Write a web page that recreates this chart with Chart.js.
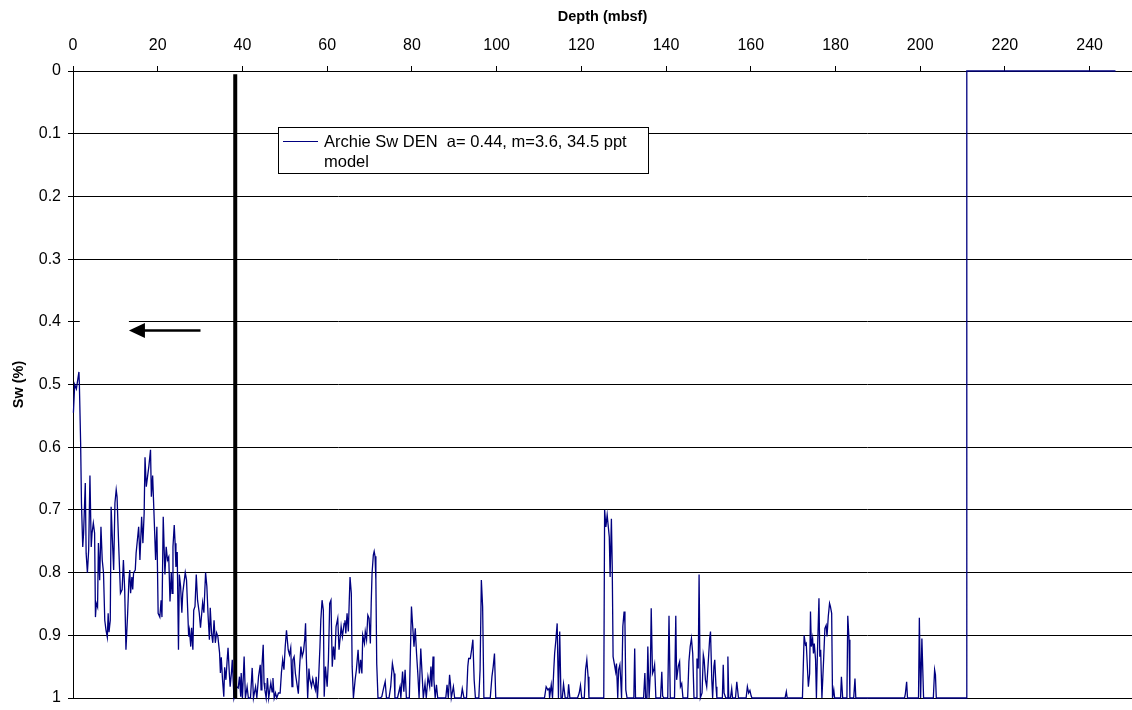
<!DOCTYPE html>
<html>
<head>
<meta charset="utf-8">
<script src="https://cdn.jsdelivr.net/npm/chart.js@4.4.0/dist/chart.umd.min.js"></script>
<style>
html,body{margin:0;padding:0;background:#fff;}
#wrap{width:1132px;height:710px;position:relative;}
</style>
</head>
<body>
<div id="wrap"><canvas id="c" width="1132" height="710"></canvas></div>
<script>
// ---------- data ----------
const xTickValues = [0, 20, 40, 60, 80, 100, 120, 140, 160, 180, 200, 220, 240];
const yTickValues = [0, 0.1, 0.2, 0.3, 0.4, 0.5, 0.6, 0.7, 0.8, 0.9, 1];
const yTickLabels = ['0', '0.1', '0.2', '0.3', '0.4', '0.5', '0.6', '0.7', '0.8', '0.9', '1'];
const xTitle = 'Depth (mbsf)';
const yTitle = 'Sw (%)';
const legendLines = ['Archie Sw DEN  a= 0.44, m=3.6, 34.5 ppt', 'model'];

// [depth (mbsf), Sw]
const swProfile = [
[0.1,.545],[0.4,.50],[0.8,.507],[1.4,.48],[1.5,.498],[1.8,.593],[2.0,.69],[2.3,.759],[2.5,.737],[2.9,.657],
[3.1,.769],[3.4,.80],[3.7,.764],[4.0,.645],[4.3,.759],[4.5,.737],[4.8,.721],[5.1,.737],[5.3,.871],[5.5,.849],
[5.8,.855],[6.0,.753],[6.3,.812],[6.6,.727],[6.9,.78],[7.2,.80],[7.5,.876],[7.8,.892],[8.1,.903],[8.3,.865],
[8.5,.895],[8.8,.876],[9.0,.695],[9.3,.748],[9.6,.796],[9.9,.689],[10.2,.668],[10.4,.679],[10.8,.759],[11.2,.833],
[11.6,.827],[11.9,.78],[12.2,.827],[12.5,.923],[12.9,.865],[13.2,.812],[13.4,.796],[13.6,.833],[13.9,.807],[14.1,.827],
[14.3,.80],[14.7,.796],[14.9,.769],[15.2,.748],[15.5,.727],[15.8,.78],[16.2,.711],[16.5,.753],[16.8,.705],[17.0,.616],
[17.3,.663],[17.6,.647],[17.9,.631],[18.3,.604],[18.5,.679],[18.8,.645],[19.2,.721],[19.5,.78],[19.8,.727],[20.1,.865],
[20.5,.871],[20.8,.844],[21.0,.871],
[21.3,.711],[21.7,.803],[22.0,.759],[22.3,.78],[22.6,.775],[22.9,.846],[23.2,.80],[23.4,.833],[23.6,.759],[23.9,.724],
[24.1,.753],[24.3,.791],[24.6,.767],[24.9,.923],[25.1,.803],[25.4,.822],[25.7,.864],[25.9,.833],[26.1,.822],[26.5,.80],
[26.8,.812],[27.1,.864],[27.3,.902],[27.5,.892],[27.8,.918],[28.0,.888],[28.3,.923],[28.5,.86],[28.8,.854],[29.1,.803],
[29.4,.844],[29.8,.864],[30.1,.888],[30.4,.864],[30.6,.848],[30.9,.864],[31.3,.80],[31.6,.822],[31.9,.87],[32.2,.907],
[32.4,.856],[32.7,.896],[33.0,.912],[33.3,.876],[33.6,.912],[33.9,.896],[34.2,.902],[34.6,.928],[34.8,.96],[35.0,.935],
[35.3,.971],[35.6,.998],[35.8,.951],[36.1,.971],[36.4,.939],[36.6,.92],[36.9,.96],[37.1,.982],[37.4,.96],[37.6,.939],
[38.0,1.0],[38.6,.982],[39.0,.984],[39.3,.966],[39.6,.998],[39.7,.96],[40.0,1],[40.4,.934],[40.7,1],[41.1,.982],
[41.4,1],[41.9,1],[42.3,.952],[42.6,1],[43.1,.982],[43.4,1],[43.8,.966],[44.2,.947],[44.4,.987],[44.6,.95],
[44.9,.915],[45.1,.976],[45.3,.987],[45.6,1],[45.9,.968],[46.2,1],[46.7,.976],[47.0,.99],[47.2,.968],[47.5,1],
[47.8,.992],[48.1,1],[48.5,.992],[48.9,.992],[49.2,.96],[49.5,.939],[49.8,.955],[50.1,.918],[50.4,.892],[50.8,.923],
[51.1,.931],[51.4,.92],[51.7,.982],[51.9,.939],[52.2,.934],[52.5,.961],[52.9,.979],[53.2,.993],[53.5,.95],[53.8,.918],
[54.1,.934],[54.4,.926],[54.7,.907],[54.9,.881],[55.1,.939],[55.4,1],[55.7,.953],[55.9,.969],[56.3,.982],[56.6,.969],
[56.9,.979],[57.2,.987],[57.4,.966],[57.7,1],[58.0,.966],[58.3,.918],[58.5,.876],[58.8,.844],[59.1,.86],[59.3,.998],
[59.6,.95],[60.0,.982],[60.3,.939],[60.6,.849],[60.9,.844],[61.2,.95],[61.5,.918],[61.8,.939],[62.1,.886],[62.5,.873],
[62.8,.923],[63.1,.902],[63.3,.886],[63.6,.902],[64.0,.881],[64.2,.876],[64.4,.897],[64.7,.865],[65.0,.894],[65.2,.849],
[65.4,.807],[65.7,.833],[65.9,.95],[66.2,1],[66.6,.971],[66.9,.955],[67.3,.923],[67.6,.961],[67.9,.939],[68.2,.961],
[68.4,.90],[68.8,.913],[69.0,.894],[69.3,.907],[69.6,.868],[69.9,.873],[70.2,.913],[70.4,.849],[70.6,.801],[70.9,.772],
[71.1,.766],[71.3,.774],[71.5,.812],[71.7,.945],[72.0,1],[72.5,1],[72.9,.998],[73.3,.985],[73.7,.974],[74.0,1],
[74.6,1],[75.0,.982],[75.4,.945],[75.8,.961],[76.0,1],[76.6,1],[77.2,.982],[77.4,1],[77.8,.958],[78.1,.99],
[78.4,.955],[78.7,1],[79.4,1],[79.9,.854],[80.1,.876],[80.5,.918],[80.8,.889],[81.1,.929],[81.4,.961],[81.7,1],
[82.1,.921],[82.4,.961],[82.7,1],[83.1,.977],[83.4,1],[83.8,.966],[84.2,.982],[84.5,.95],[84.7,.982],[85.0,.934],
[85.2,.971],[85.5,1],[85.8,.979],[86.1,1],[88.0,1],[88.3,.979],[88.6,1],[88.9,.963],[89.1,.977],[89.3,1],
[89.8,.982],[90.1,1],[91.6,1],[91.9,.985],[92.3,1],[92.9,1],[93.2,.95],[93.4,.937],[93.8,.937],[94.1,.923],
[94.4,.907],[94.7,.971],[95.0,1],[95.8,1],[96.1,.955],[96.4,.812],[96.7,.854],[97.0,1],[98.5,1],[98.9,.966],
[99.2,.95],[99.5,.929],[99.8,1],[110.4,1],[111.3,1],[111.7,.982],[112.1,.987],[112.4,.985],[112.5,1],[112.9,.979],
[113.2,1],[113.5,.955],[113.7,.929],[114.0,.907],[114.3,.881],[114.6,1],[114.9,.894],[115.2,1],[115.5,1],[115.8,.978],
[116.2,1],[116.8,1],[117.0,.978],[117.3,1],[119.1,1],[119.5,.992],[119.8,.98],[120.1,1],[120.7,1],[121.0,.955],
[121.3,.939],[121.6,.966],[121.8,1],[125.3,1],[125.5,.70],[125.8,.727],[126.1,.708],[126.4,.729],[126.6,.743],[126.8,.807],
[127.1,.714],[127.3,.791],[127.5,.934],[127.9,.95],[128.1,.958],[128.3,.945],[128.6,1],[128.8,.955],[129.1,.947],[129.3,.971],
[129.5,1],[129.8,.886],[130.1,.862],[130.3,.881],[130.5,.987],[130.8,1],[132.4,1],[132.6,.921],[132.8,1],[134.7,1],
[135.0,.96],[135.2,1],[135.5,1],[135.7,.918],[136.0,1],[136.3,.958],[136.5,.857],[136.8,.961],[137.1,.955],[137.3,.947],
[137.6,1],[138.7,1],[139.0,.958],[139.2,.997],[139.5,1],[140.4,1],[140.7,.869],[141.0,1],[142.0,1],[142.3,.869],
[142.5,.971],[142.9,.949],[143.2,.942],[143.4,.982],[143.7,.977],[144.0,1],[145.1,1],[145.4,.942],[145.7,.918],[146.0,.905],
[146.3,.929],[146.6,1],[147.1,1],[147.3,.937],[147.6,.953],[147.8,.803],[148.1,1],[148.5,.992],[148.8,.931],[149.0,.939],
[149.3,.971],[149.6,.982],[150.0,.939],[150.3,.905],[150.5,.894],[150.8,.971],[151.0,1],[151.3,.95],[151.5,.939],[151.8,.982],
[152.0,1],[153.3,1],[153.5,.947],[153.7,.992],[154.1,1],[154.4,1],[154.6,.934],[154.8,1],[155.2,1],[155.5,.985],
[155.7,1],[156.4,1],[156.7,.974],[156.9,.987],[157.1,1],[158.9,1],[159.2,.982],[159.5,.992],[159.8,.988],[160.1,.997],
[160.3,1],[168.1,1],[168.4,.99],[168.6,1],[172.2,1],[172.6,.90],[172.9,.915],[173.1,.913],[173.4,.955],[173.6,.982],
[173.9,.961],[174.1,.862],[174.3,.918],[174.6,.905],[174.8,.929],[175.0,.913],[175.3,.939],[175.5,1],[175.7,.939],[176.1,.841],
[176.3,.934],[176.5,.923],[176.8,1],[177.2,.939],[177.5,.889],[177.8,.884],[178.0,.902],[178.3,.87],[178.6,.849],[178.8,.854],
[179.1,.865],[179.3,1],[179.6,.987],[179.8,1],[181.2,1],[181.4,.966],[181.7,1],[182.7,1],[182.9,.869],[183.2,.907],
[183.4,1],[184.3,1],[184.6,.969],[184.8,1],[196.3,1],[196.5,.993],[196.8,.974],[197.0,1],[199.6,1],[199.8,.872],
[200.1,1],[200.4,.905],[200.8,1],[203.1,1],[203.4,.955],[203.6,.963],[203.8,1],[210.9,1],[211.0,0],[246.1,0]
];

// thick vertical marker line [depth, Sw]
const markerLine = [[38.3, 0.005], [38.3, 1]];
// arrow: tail and tip [depth, Sw]
const arrowTail = [30.1, 0.414];
const arrowTip = [13.2, 0.414];
// segment of the 0.4 gridline that is blank in the original [depthFrom, depthTo, Sw]
const gridGap = [1.6, 13.2, 0.4];

// ---------- styles ----------
const seriesColor = '#000080';
const FONT = '"Liberation Sans", Arial, Helvetica, sans-serif';

const overlayPlugin = {
  id: 'overlay',
  beforeDatasetsDraw(chart) {
    const {ctx, scales: {x, y}} = chart;
    ctx.save();
    ctx.fillStyle = '#fff';
    const gy = Math.round(y.getPixelForValue(gridGap[2]));
    const x0 = x.getPixelForValue(gridGap[0]);
    const x1 = x.getPixelForValue(gridGap[1]);
    ctx.fillRect(x0, gy - 1.5, x1 - x0, 3);
    ctx.restore();
  },
  afterDatasetsDraw(chart) {
    const {ctx, scales: {x, y}} = chart;
    ctx.save();
    // arrow
    const tx = x.getPixelForValue(arrowTail[0]);
    const hx = x.getPixelForValue(arrowTip[0]);
    const ay = y.getPixelForValue(arrowTail[1]);
    ctx.strokeStyle = '#000';
    ctx.fillStyle = '#000';
    ctx.lineWidth = 2.5;
    ctx.beginPath();
    ctx.moveTo(tx, ay);
    ctx.lineTo(hx + 12, ay);
    ctx.stroke();
    ctx.beginPath();
    ctx.moveTo(hx, ay);
    ctx.lineTo(hx + 16, ay - 7.5);
    ctx.lineTo(hx + 16, ay + 7.5);
    ctx.closePath();
    ctx.fill();

    // legend box
    ctx.fillStyle = '#fff';
    ctx.fillRect(278, 127, 370, 46);
    ctx.strokeStyle = '#000';
    ctx.lineWidth = 1;
    ctx.strokeRect(278.5, 127.5, 370, 46);
    ctx.strokeStyle = seriesColor;
    ctx.lineWidth = 1.2;
    ctx.beginPath();
    ctx.moveTo(283, 141.5);
    ctx.lineTo(318, 141.5);
    ctx.stroke();
    ctx.fillStyle = '#000';
    ctx.font = '16.5px ' + FONT;
    ctx.textBaseline = 'alphabetic';
    ctx.textAlign = 'left';
    ctx.fillText(legendLines[0], 324, 147);
    ctx.fillText(legendLines[1], 324, 166.5);
    ctx.restore();
  }
};

new Chart(document.getElementById('c'), {
  type: 'scatter',
  data: {
    datasets: [
      {
        label: 'marker',
        data: markerLine.map(p => ({x: p[0], y: p[1]})),
        showLine: true,
        borderColor: '#000',
        borderWidth: 4,
        pointRadius: 0,
        clip: false
      },
      {
        label: legendLines.join(' '),
        data: swProfile.map(p => ({x: p[0], y: p[1]})),
        showLine: true,
        borderColor: seriesColor,
        borderWidth: 1.3,
        pointRadius: 0,
        tension: 0,
        clip: false
      }
    ]
  },
  options: {
    responsive: false,
    animation: false,
    devicePixelRatio: 1,
    layout: {padding: {left: 0, right: 0, top: 0, bottom: 12}},
    plugins: {legend: {display: false}, tooltip: {enabled: false}},
    scales: {
      x: {
        type: 'linear',
        position: 'top',
        min: 0,
        max: 250,
        afterBuildTicks: s => { s.ticks = xTickValues.map(v => ({value: v})); },
        afterFit: s => { s.height = 71; s.paddingLeft = 0; s.paddingRight = 0; },
        ticks: {
          color: '#000',
          font: {family: FONT, size: 16},
          padding: 11,
          maxRotation: 0,
          autoSkip: false
        },
        grid: {drawOnChartArea: false, drawTicks: true, tickLength: 5, color: '#000', lineWidth: 1},
        border: {display: true, color: '#000', width: 1},
        title: {display: true, text: xTitle, color: '#000', font: {family: FONT, size: 14.5, weight: 'bold'}, padding: {top: 8, bottom: 0}}
      },
      y: {
        type: 'linear',
        reverse: true,
        min: 0,
        max: 1,
        afterBuildTicks: s => { s.ticks = yTickValues.map(v => ({value: v})); },
        afterFit: s => { s.width = 73; s.paddingTop = 0; s.paddingBottom = 0; },
        ticks: {
          color: '#000',
          font: {family: FONT, size: 16},
          padding: 7,
          callback: (v, i) => yTickLabels[i]
        },
        grid: {color: '#000', lineWidth: 1, drawTicks: true, tickLength: 5},
        border: {display: true, color: '#000', width: 1},
        title: {display: true, text: yTitle, color: '#000', font: {family: FONT, size: 14.5, weight: 'bold'}, padding: {top: 10, bottom: 0}}
      }
    }
  },
  plugins: [overlayPlugin]
});
</script>
</body>
</html>
